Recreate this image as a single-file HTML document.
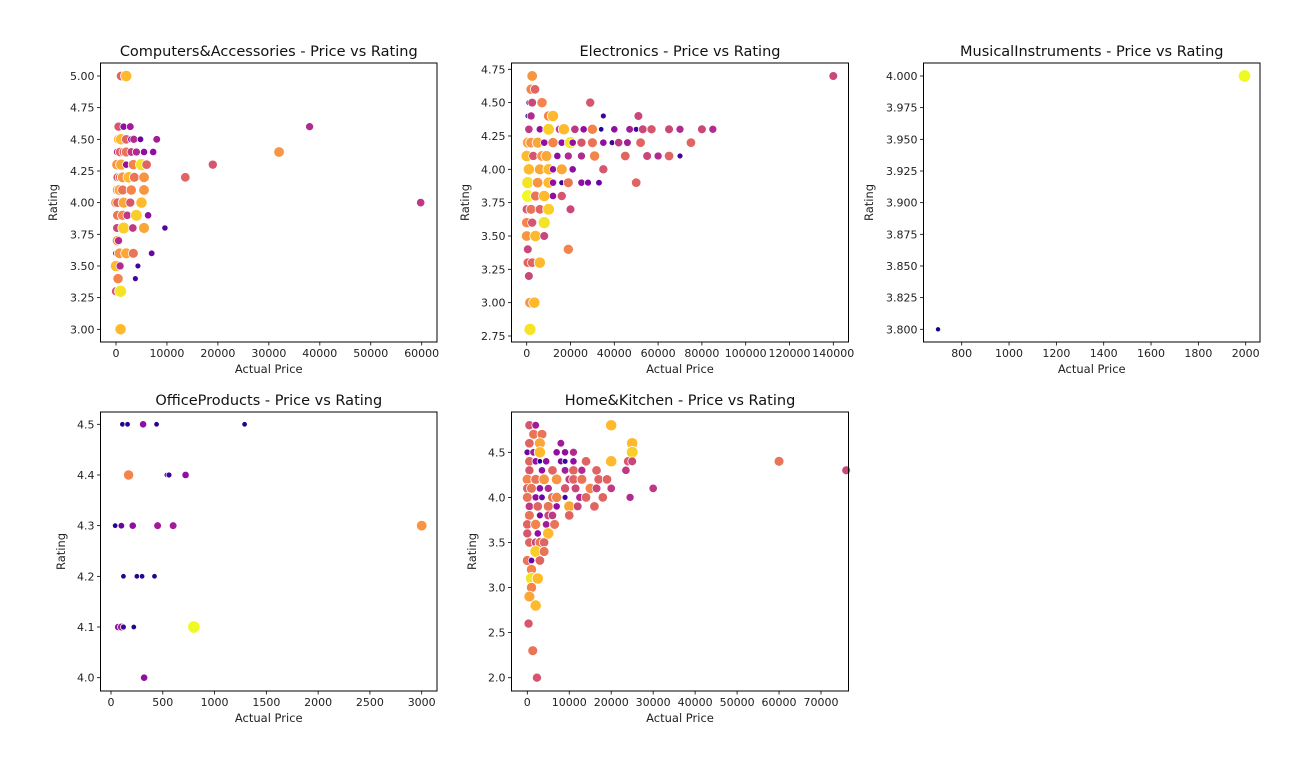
<!DOCTYPE html>
<html><head><meta charset="utf-8"><style>
body{margin:0;background:#fff;}
svg{display:block;font-family:"DejaVu Sans","Liberation Sans",sans-serif;}
</style></head><body>
<svg id="chart" width="1314" height="762" viewBox="0 0 1314 762" xmlns="http://www.w3.org/2000/svg"></svg>
<script>
// data: [actual price, rating, color value 0..1]
const computersPoints=[[1000,5.0,0.6],[2000,5.0,0.85],[500,4.6,0.55],[1500,4.6,0.3],[2800,4.6,0.35],[38000,4.6,0.4],
[600,4.5,0.8],[1000,4.5,0.85],[2000,4.5,0.6],[3000,4.5,0.3],[3500,4.5,0.4],[4800,4.5,0.2],[8000,4.5,0.35],
[300,4.4,0.4],[800,4.4,0.6],[1500,4.4,0.55],[2000,4.4,0.65],[3000,4.4,0.45],[4000,4.4,0.4],[5500,4.4,0.3],[7300,4.4,0.3],[32000,4.4,0.75],
[200,4.3,0.75],[1000,4.3,0.8],[2000,4.3,0.3],[3400,4.3,0.7],[5000,4.3,0.95],[6000,4.3,0.6],[19000,4.3,0.55],
[300,4.2,0.55],[800,4.2,0.6],[1300,4.2,0.75],[2500,4.2,0.85],[3600,4.2,0.65],[5500,4.2,0.75],[13600,4.2,0.6],
[300,4.1,0.7],[700,4.1,0.8],[1300,4.1,0.65],[3000,4.1,0.7],[5500,4.1,0.75],
[0,4.0,0.75],[300,4.0,0.6],[1500,4.0,0.8],[2800,4.0,0.55],[5000,4.0,0.85],[59800,4.0,0.45],
[300,3.9,0.65],[1300,3.9,0.7],[2200,3.9,0.45],[4000,3.9,0.9],[6300,3.9,0.3],
[0,3.8,0.0],[200,3.8,0.5],[1500,3.8,0.9],[3300,3.8,0.45],[5500,3.8,0.8],[9600,3.8,0.15],
[300,3.7,0.75],[500,3.7,0.4],[0,3.6,0.2],[700,3.6,0.75],[2000,3.6,0.8],[3400,3.6,0.65],[7000,3.6,0.2],
[0,3.5,0.85],[800,3.5,0.4],[4300,3.5,0.1],[400,3.4,0.7],[3800,3.4,0.1],[0,3.3,0.55],[900,3.3,0.95],[900,3.0,0.85]];
const electronicsPoints=[[2500,4.7,0.75],[140000,4.7,0.5],[2000,4.6,0.7],[3800,4.6,0.6],
[1000,4.5,0.1],[2500,4.5,0.5],[7000,4.5,0.7],[29000,4.5,0.55],
[500,4.4,0.05],[2000,4.4,0.4],[10000,4.4,0.7],[12000,4.4,0.85],[35000,4.4,0.1],[51000,4.4,0.5],
[1000,4.3,0.45],[6000,4.3,0.3],[10000,4.3,0.9],[15000,4.3,0.45],[17000,4.3,0.85],[22000,4.3,0.45],[26000,4.3,0.3],[30000,4.3,0.7],[34000,4.3,0.05],[40000,4.3,0.3],[47000,4.3,0.35],[50000,4.3,0.1],[53000,4.3,0.5],[57000,4.3,0.55],[65000,4.3,0.5],[70000,4.3,0.4],[80000,4.3,0.5],[85000,4.3,0.4],
[500,4.2,0.8],[2000,4.2,0.75],[5000,4.2,0.8],[8000,4.2,0.3],[12000,4.2,0.7],[16000,4.2,0.3],[20000,4.2,0.95],[21000,4.2,0.3],[25000,4.2,0.55],[30000,4.2,0.65],[35000,4.2,0.3],[39000,4.2,0.1],[42000,4.2,0.45],[46000,4.2,0.35],[52000,4.2,0.6],[75000,4.2,0.6],
[0,4.1,0.85],[3000,4.1,0.55],[7000,4.1,0.75],[9000,4.1,0.8],[14000,4.1,0.3],[19000,4.1,0.4],[25000,4.1,0.4],[31000,4.1,0.7],[45000,4.1,0.6],[55000,4.1,0.5],[60000,4.1,0.4],[65000,4.1,0.6],[70000,4.1,0.1],
[1000,4.0,0.85],[6000,4.0,0.8],[10000,4.0,0.85],[12000,4.0,0.3],[16000,4.0,0.8],[21000,4.0,0.3],[35000,4.0,0.55],
[500,3.9,0.95],[5000,3.9,0.75],[10000,3.9,0.85],[12000,3.9,0.3],[16000,3.9,0.1],[19000,3.9,0.65],[25000,3.9,0.3],[28000,3.9,0.25],[33000,3.9,0.2],[50000,3.9,0.6],
[500,3.8,1.0],[4000,3.8,0.65],[8000,3.8,0.85],[12000,3.8,0.3],[16000,3.8,0.55],
[0,3.7,0.55],[2000,3.7,0.65],[6000,3.7,0.6],[10000,3.7,0.9],[20000,3.7,0.5],
[0,3.6,0.7],[2500,3.6,0.55],[8000,3.6,0.95],[0,3.5,0.75],[4000,3.5,0.85],[8000,3.5,0.5],
[500,3.4,0.5],[19000,3.4,0.7],[500,3.3,0.6],[2500,3.3,0.6],[6000,3.3,0.85],[1000,3.2,0.5],
[1500,3.0,0.75],[3500,3.0,0.85],[1500,2.8,0.95]];
const musicalPoints=[[700,3.8,0.0],[1995,4.0,1.0]];
const officePoints=[[110,4.5,0.05],[160,4.5,0.05],[310,4.5,0.3],[440,4.5,0.05],[1290,4.5,0.05],
[170,4.4,0.7],[540,4.4,0.05],[560,4.4,0.1],[720,4.4,0.3],
[40,4.3,0.05],[100,4.3,0.2],[210,4.3,0.3],[450,4.3,0.35],[600,4.3,0.35],[3000,4.3,0.75],
[120,4.2,0.05],[250,4.2,0.05],[300,4.2,0.05],[420,4.2,0.05],
[70,4.1,0.3],[100,4.1,0.35],[120,4.1,0.1],[220,4.1,0.05],[800,4.1,1.0],[320,4.0,0.3]];
const homePoints=[[500,4.8,0.55],[2000,4.8,0.35],[20000,4.8,0.85],[1500,4.7,0.65],[3500,4.7,0.65],
[500,4.6,0.6],[3000,4.6,0.8],[8000,4.6,0.35],[25000,4.6,0.85],
[0,4.5,0.2],[1500,4.5,0.35],[3000,4.5,0.85],[7000,4.5,0.3],[9000,4.5,0.3],[11000,4.5,0.4],[25000,4.5,0.9],
[500,4.4,0.6],[2000,4.4,0.3],[3000,4.4,0.05],[4500,4.4,0.3],[8000,4.4,0.25],[9000,4.4,0.1],[11000,4.4,0.3],[14000,4.4,0.6],[20000,4.4,0.85],[24000,4.4,0.55],[25000,4.4,0.5],[60000,4.4,0.65],
[500,4.3,0.55],[3500,4.3,0.3],[6000,4.3,0.6],[9000,4.3,0.35],[11000,4.3,0.6],[13000,4.3,0.4],[16500,4.3,0.6],[23500,4.3,0.45],[76000,4.3,0.5],
[0,4.2,0.7],[2000,4.2,0.65],[4000,4.2,0.75],[7000,4.2,0.75],[10000,4.2,0.45],[11000,4.2,0.6],[13000,4.2,0.65],[17000,4.2,0.6],[19000,4.2,0.6],
[0,4.1,0.6],[1000,4.1,0.65],[3000,4.1,0.3],[5000,4.1,0.4],[9000,4.1,0.55],[11500,4.1,0.5],[15000,4.1,0.7],[16500,4.1,0.5],[20000,4.1,0.45],[30000,4.1,0.45],
[0,4.0,0.65],[2000,4.0,0.3],[3500,4.0,0.2],[6000,4.0,0.65],[7000,4.0,0.7],[9000,4.0,0.1],[12500,4.0,0.4],[14000,4.0,0.6],[18000,4.0,0.6],[24500,4.0,0.4],
[500,3.9,0.45],[2500,3.9,0.6],[5000,3.9,0.65],[7000,3.9,0.3],[10000,3.9,0.8],[12000,3.9,0.5],[16000,3.9,0.6],
[500,3.8,0.65],[3000,3.8,0.25],[5000,3.8,0.5],[6000,3.8,0.45],[10000,3.8,0.6],
[0,3.7,0.6],[2000,3.7,0.7],[4500,3.7,0.35],[6500,3.7,0.65],[0,3.6,0.55],[2500,3.6,0.3],[5000,3.6,0.85],
[500,3.5,0.6],[2000,3.5,0.5],[3000,3.5,0.65],[4000,3.5,0.6],[2000,3.4,0.9],[4000,3.4,0.65],
[0,3.3,0.65],[1000,3.3,0.2],[3000,3.3,0.6],[1000,3.2,0.7],[1000,3.1,0.95],[2500,3.1,0.85],
[1000,3.0,0.7],[500,2.9,0.8],[2000,2.8,0.85],[300,2.6,0.55],[1300,2.3,0.65],[2300,2.0,0.55]];
const titles=["Computers&Accessories - Price vs Rating","Electronics - Price vs Rating","MusicalInstruments - Price vs Rating","OfficeProducts - Price vs Rating","Home&Kitchen - Price vs Rating"];
const xTicks1=[0,10000,20000,30000,40000,50000,60000], yTicks1=[3.0,3.25,3.5,3.75,4.0,4.25,4.5,4.75,5.0];
const xTicks2=[0,20000,40000,60000,80000,100000,120000,140000], yTicks2=[2.75,3.0,3.25,3.5,3.75,4.0,4.25,4.5,4.75];
const xTicks3=[800,1000,1200,1400,1600,1800,2000], yTicks3=[3.8,3.825,3.85,3.875,3.9,3.925,3.95,3.975,4.0];
const xTicks4=[0,500,1000,1500,2000,2500,3000], yTicks4=[4.0,4.1,4.2,4.3,4.4,4.5];
const xTicks5=[0,10000,20000,30000,40000,50000,60000,70000], yTicks5=[2.0,2.5,3.0,3.5,4.0,4.5];

const NS="http://www.w3.org/2000/svg", svg=document.getElementById('chart');
function mk(tag,attrs,parent){const e=document.createElementNS(NS,tag);for(const k in attrs)e.setAttribute(k,attrs[k]);(parent||svg).appendChild(e);return e;}
const stops=[[0,[13,8,135]],[0.125,[84,2,163]],[0.25,[139,10,165]],[0.375,[185,50,137]],[0.5,[219,92,104]],[0.625,[244,136,73]],[0.75,[254,188,43]],[0.875,[240,249,33]],[1,[240,249,33]]];
function plasma(c){c=Math.max(0,Math.min(1,c*0.875/1));for(let i=0;i<stops.length-1;i++){const a=stops[i],b=stops[i+1];if(c<=b[0]){const t=(c-a[0])/(b[0]-a[0]);return 'rgb('+a[1].map((v,j)=>Math.round(v+(b[1][j]-v)*t)).join(',')+')';}}return 'rgb(240,249,33)';}
const panels=[
 {pts:computersPoints,box:[100.5,63,437,342],xr:[0,116,60000,421.7],yr:[5,76,3,329.3],xt:xTicks1,yt:yTicks1,yd:2,ylx:53,key:'computers'},
 {pts:electronicsPoints,box:[511.5,63,848.5,342],xr:[0,526.7,140000,833.3],yr:[4.75,69.3,2.75,336],xt:xTicks2,yt:yTicks2,yd:2,ylx:465,key:'electronics'},
 {pts:musicalPoints,box:[923.5,63,1260,342],xr:[800,961.7,2000,1245.7],yr:[4,76,3.8,329.3],xt:xTicks3,yt:yTicks3,yd:3,ylx:869,key:'musical'},
 {pts:officePoints,box:[100.5,412,437,691],xr:[0,111,3000,421.7],yr:[4.5,424.3,4.0,677.7],xt:xTicks4,yt:yTicks4,yd:1,ylx:61,key:'office'},
 {pts:homePoints,box:[511.5,412,848.5,691],xr:[0,527.3,70000,821],yr:[4.5,452.3,2.0,677.7],xt:xTicks5,yt:yTicks5,yd:1,ylx:472,key:'home'}];
panels.forEach((p,i)=>{
 const [l,t,r,b]=p.box;
 const sx=v=>p.xr[1]+(v-p.xr[0])*(p.xr[3]-p.xr[1])/(p.xr[2]-p.xr[0]);
 const sy=v=>p.yr[1]+(v-p.yr[0])*(p.yr[3]-p.yr[1])/(p.yr[2]-p.yr[0]);
 const g=mk('g',{});
 
 
 const pg=mk('g',{},g);
 
 
 p.pts.forEach(d=>{
  const c=mk('circle',{cx:sx(d[0]),cy:sy(d[1]),r:2.6+3.6*d[2],fill:plasma(d[2]),stroke:'#fff','stroke-width':0.75},pg);
  
  
 });
 const fr=mk('rect',{x:l,y:t,width:r-l,height:b-t,fill:'none',stroke:'#000','stroke-width':1},g);
 
 
 p.xt.forEach(v=>{const x=sx(v);mk('line',{x1:x,x2:x,y1:b,y2:b+3.5,stroke:'#000','stroke-width':0.8},g);
  const tx=mk('text',{x:x,y:b+15,'text-anchor':'middle','font-size':11,fill:'#222'},g);tx.textContent=String(v);
  
  });
 p.yt.forEach(v=>{const y=sy(v);mk('line',{x1:l,x2:l-3.5,y1:y,y2:y,stroke:'#000','stroke-width':0.8},g);
  const tx=mk('text',{x:l-6,y:y+4,'text-anchor':'end','font-size':11,fill:'#222'},g);tx.textContent=v.toFixed(p.yd);
  
  });
 const tt=mk('text',{x:(l+r)/2,y:t-7,'text-anchor':'middle','font-size':14.5,fill:'#111'},g);tt.textContent=titles[i];
 
 
 const xl=mk('text',{x:(l+r)/2,y:b+31,'text-anchor':'middle','font-size':11.5,fill:'#222'},g);xl.textContent='Actual Price';
 
 
 const yl=mk('text',{x:0,y:0,'text-anchor':'middle','font-size':11.5,fill:'#222',transform:`translate(${p.ylx+4},${(t+b)/2}) rotate(-90)`},g);yl.textContent='Rating';
 
 
});
</script>
</body></html>
